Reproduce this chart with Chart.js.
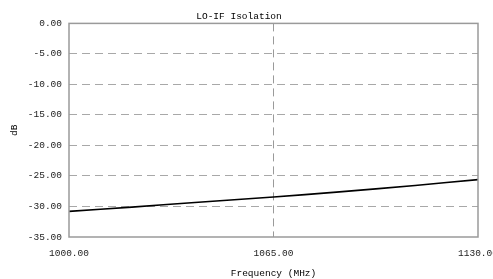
<!DOCTYPE html>
<html>
<head>
<meta charset="utf-8">
<script src="https://cdn.jsdelivr.net/npm/chart.js@4"></script>
<style>
  html, body { margin: 0; padding: 0; background: #fff; }
  #wrap { width: 493px; height: 279px; position: relative; }
</style>
</head>
<body>
<div id="wrap"><canvas id="c"></canvas></div>
<script>
// values
var freqMHz   = [1000, 1020, 1040, 1065, 1085, 1110, 1130];
var isolation = [-30.8, -30.1, -29.35, -28.45, -27.65, -26.55, -25.6];
var xTicks    = [1000, 1065, 1130];
var yTicks    = [0, -5, -10, -15, -20, -25, -30, -35];

var FONT = "'Liberation Mono', 'DejaVu Sans Mono', monospace";

// solid frame around the plot area; the inner grid stays dashed
var framePlugin = {
  id: "frame",
  afterDatasetsDraw: function(chart) {
    var a = chart.chartArea, ctx = chart.ctx;
    ctx.save();
    ctx.strokeStyle = "#9a9a9a";
    ctx.lineWidth = 1.5;
    ctx.strokeRect(a.left, a.top, a.right - a.left, a.bottom - a.top);
    ctx.restore();
  }
};

var pts = freqMHz.map(function(f, i) { return { x: f, y: isolation[i] }; });

new Chart(document.getElementById("c"), {
  type: "line",
  data: {
    datasets: [{
      data: pts,
      borderColor: "#000",
      borderWidth: 1.6,
      pointRadius: 0,
      tension: 0.3,
      fill: false
    }]
  },
  options: {
    responsive: true,
    maintainAspectRatio: false,
    animation: false,
    layout: { autoPadding: false, padding: { left: 0, right: 15, top: 0, bottom: 0 } },
    plugins: {
      legend: { display: false },
      tooltip: { enabled: false },
      title: {
        display: true,
        text: "LO-IF Isolation",
        color: "#000",
        font: { family: FONT, size: 9.5, weight: "normal" },
        padding: { top: 11, bottom: 1 }
      }
    },
    scales: {
      x: {
        type: "linear",
        min: 1000, max: 1130,
        afterBuildTicks: function(s) { s.ticks = xTicks.map(function(v) { return { value: v }; }); },
        afterFit: function(s) { s.height = 42; s.paddingRight = 0; s.paddingLeft = 0; },
        ticks: {
          color: "#222",
          font: { family: FONT, size: 9.5 },
          padding: 11,
          maxRotation: 0,
          callback: function(v) { return Number(v).toFixed(2); }
        },
        grid: {
          drawTicks: false,
          color: function(c) { return (c.tick && (c.tick.value === 1000 || c.tick.value === 1130)) ? "transparent" : "#9a9a9a"; }
        },
        border: { display: false, dash: [8, 5] },
        title: {
          display: true,
          text: "Frequency (MHz)",
          color: "#000",
          font: { family: FONT, size: 9.5 },
          padding: { top: 6, bottom: 0 }
        }
      },
      y: {
        min: -35, max: 0,
        afterBuildTicks: function(s) { s.ticks = yTicks.map(function(v) { return { value: v }; }); },
        afterFit: function(s) { s.width = 69; },
        ticks: {
          color: "#222",
          font: { family: FONT, size: 9.5 },
          padding: 7,
          callback: function(v) { return Number(v).toFixed(2); }
        },
        grid: {
          drawTicks: false,
          color: function(c) { return (c.tick && (c.tick.value === 0 || c.tick.value === -35)) ? "transparent" : "#a8a8a8"; }
        },
        border: { display: false, dash: [8, 5] },
        title: {
          display: true,
          text: "dB",
          color: "#000",
          font: { family: FONT, size: 9.5 },
          padding: { top: 9, bottom: 0 }
        }
      }
    }
  },
  plugins: [framePlugin]
});
</script>
</body>
</html>
